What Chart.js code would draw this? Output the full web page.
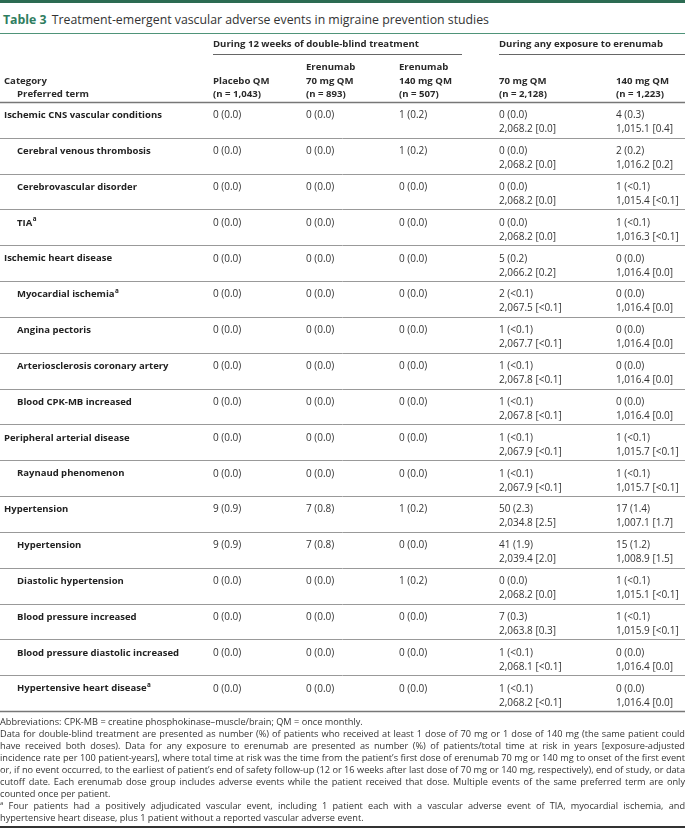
<!DOCTYPE html>
<html>
<head>
<meta charset="utf-8">
<script src="https://cdn.jsdelivr.net/npm/chart.js@4"></script>
<style>
body{margin:0;width:685px;height:828px;position:relative;overflow:hidden;background:#fff;font-family:"Open Sans",sans-serif;color:#333}
#topbar{position:absolute;left:0;top:0;width:685px;height:3px;background:#2c6b52}
#title{position:absolute;left:3px;top:12px;font-size:12.3px;line-height:16px;white-space:nowrap;color:#333}
#title b{color:#2f7d60;font-weight:700;margin-right:2px}
#titleLine{position:absolute;left:0;top:33px;width:685px;height:1px;background:#4f9479}
#wrap{position:absolute;left:0;top:0;width:685px;height:828px}
#notes{position:absolute;left:0;top:716px;width:685px;font-size:9.2px;line-height:12px;color:#333}
#notes div{white-space:nowrap;text-align:left}
#notes div.j{text-align:justify;text-align-last:justify;white-space:normal}
#notes sup{font-size:6px;vertical-align:4px;line-height:0}
#bottomLine{position:absolute;left:0;top:826px;width:685px;height:2px;background:#333}
</style>
</head>
<body>
<div id="topbar"></div>
<div id="title"><b>Table 3</b> Treatment-emergent vascular adverse events in migraine prevention studies</div>
<div id="titleLine"></div>
<div id="wrap"><canvas id="myChart" width="685" height="828"></canvas></div>
<div id="notes">
<div>Abbreviations: CPK-MB = creatine phosphokinase–muscle/brain; QM = once monthly.</div>
<div class="j">Data for double-blind treatment are presented as number (%) of patients who received at least 1 dose of 70 mg or 1 dose of 140 mg (the same patient could</div>
<div class="j">have received both doses). Data for any exposure to erenumab are presented as number (%) of patients/total time at risk in years [exposure-adjusted</div>
<div class="j">incidence rate per 100 patient-years], where total time at risk was the time from the patient’s first dose of erenumab 70 mg or 140 mg to onset of the first event</div>
<div class="j">or, if no event occurred, to the earliest of patient’s end of safety follow-up (12 or 16 weeks after last dose of 70 mg or 140 mg, respectively), end of study, or data</div>
<div class="j">cutoff date. Each erenumab dose group includes adverse events while the patient received that dose. Multiple events of the same preferred term are only</div>
<div>counted once per patient.</div>
<div class="j"><sup>a</sup> Four patients had a positively adjudicated vascular event, including 1 patient each with a vascular adverse event of TIA, myocardial ischemia, and</div>
<div>hypertensive heart disease, plus 1 patient without a reported vascular adverse event.</div>
</div>
<div id="bottomLine"></div>
<script>
// rows of the table
const categories = [
  'Ischemic CNS vascular conditions', 'Cerebral venous thrombosis', 'Cerebrovascular disorder', 'TIA',
  'Ischemic heart disease', 'Myocardial ischemia', 'Angina pectoris', 'Arteriosclerosis coronary artery',
  'Blood CPK-MB increased', 'Peripheral arterial disease', 'Raynaud phenomenon', 'Hypertension',
  'Hypertension', 'Diastolic hypertension', 'Blood pressure increased', 'Blood pressure diastolic increased',
  'Hypertensive heart disease'
];
const isSubRow = [0,1,1,1, 0,1,1,1,1, 0,1, 0,1,1,1,1,1];
const footMark = [0,0,0,1, 0,1,0,0,0, 0,0, 0,0,0,0,0,1];

// double-blind treatment, n (%)
const placeboQM = ['0 (0.0)','0 (0.0)','0 (0.0)','0 (0.0)','0 (0.0)','0 (0.0)','0 (0.0)','0 (0.0)','0 (0.0)','0 (0.0)','0 (0.0)','9 (0.9)','9 (0.9)','0 (0.0)','0 (0.0)','0 (0.0)','0 (0.0)'];
const erenumab70 = ['0 (0.0)','0 (0.0)','0 (0.0)','0 (0.0)','0 (0.0)','0 (0.0)','0 (0.0)','0 (0.0)','0 (0.0)','0 (0.0)','0 (0.0)','7 (0.8)','7 (0.8)','0 (0.0)','0 (0.0)','0 (0.0)','0 (0.0)'];
const erenumab140 = ['1 (0.2)','1 (0.2)','0 (0.0)','0 (0.0)','0 (0.0)','0 (0.0)','0 (0.0)','0 (0.0)','0 (0.0)','0 (0.0)','0 (0.0)','1 (0.2)','0 (0.0)','1 (0.2)','0 (0.0)','0 (0.0)','0 (0.0)'];

// any exposure to erenumab, n (%) and time at risk [rate]
const any70n = ['0 (0.0)','0 (0.0)','0 (0.0)','0 (0.0)','5 (0.2)','2 (<0.1)','1 (<0.1)','1 (<0.1)','1 (<0.1)','1 (<0.1)','1 (<0.1)','50 (2.3)','41 (1.9)','0 (0.0)','7 (0.3)','1 (<0.1)','1 (<0.1)'];
const any70t = ['2,068.2 [0.0]','2,068.2 [0.0]','2,068.2 [0.0]','2,068.2 [0.0]','2,066.2 [0.2]','2,067.5 [<0.1]','2,067.7 [<0.1]','2,067.8 [<0.1]','2,067.8 [<0.1]','2,067.9 [<0.1]','2,067.9 [<0.1]','2,034.8 [2.5]','2,039.4 [2.0]','2,068.2 [0.0]','2,063.8 [0.3]','2,068.1 [<0.1]','2,068.2 [<0.1]'];
const any140n = ['4 (0.3)','2 (0.2)','1 (<0.1)','1 (<0.1)','0 (0.0)','0 (0.0)','0 (0.0)','0 (0.0)','0 (0.0)','1 (<0.1)','1 (<0.1)','17 (1.4)','15 (1.2)','1 (<0.1)','1 (<0.1)','0 (0.0)','0 (0.0)'];
const any140t = ['1,015.1 [0.4]','1,016.2 [0.2]','1,015.4 [<0.1]','1,016.3 [<0.1]','1,016.4 [0.0]','1,016.4 [0.0]','1,016.4 [0.0]','1,016.4 [0.0]','1,016.4 [0.0]','1,015.7 [<0.1]','1,015.7 [<0.1]','1,007.1 [1.7]','1,008.9 [1.5]','1,015.1 [<0.1]','1,015.9 [<0.1]','1,016.4 [0.0]','1,016.4 [0.0]'];

// column headers
const groupHeads = ['During 12 weeks of double-blind treatment', 'During any exposure to erenumab'];
const colHeads = [
  ['', 'Category', 'Preferred term'],
  ['', 'Placebo QM', '(n = 1,043)'],
  ['Erenumab', '70 mg QM', '(n = 893)'],
  ['Erenumab', '140 mg QM', '(n = 507)'],
  ['', '70 mg QM', '(n = 2,128)'],
  ['', '140 mg QM', '(n = 1,223)']
];

const colX = [4, 213, 306, 399, 499, 616];
const FONT = '"Open Sans", sans-serif';

const tablePlugin = {
  id: 'tableText',
  afterDraw(chart) {
    const c = chart.ctx;
    const ys = chart.scales.y;
    const band = (ys.bottom - ys.top) / categories.length;
    c.save();
    c.textBaseline = 'middle';
    c.textAlign = 'left';

    // header
    const top = ys.top;
    c.fillStyle = '#2a2a2a';
    c.font = 'bold 9.6px ' + FONT;
    c.fillText(groupHeads[0], colX[1], top - 58);
    c.fillText(groupHeads[1], colX[4], top - 58);
    c.strokeStyle = '#666';
    c.lineWidth = 1.2;
    c.beginPath();
    c.moveTo(colX[1], top - 47.5); c.lineTo(462, top - 47.5);
    c.moveTo(colX[4], top - 47.5); c.lineTo(685, top - 47.5);
    c.stroke();
    colHeads.forEach((h, j) => {
      const x = colX[j];
      c.fillText(h[0], x, top - 35);
      c.fillText(h[1], x, top - 21);
      c.fillText(h[2], x + (j === 0 ? 13 : 0), top - 7.5);
    });

    // row lines
    for (let i = 0; i <= categories.length; i++) {
      const y = Math.round(ys.top + i * band) + 0.5;
      const edge = i === 0 || i === categories.length;
      c.strokeStyle = edge ? '#777' : '#999';
      c.lineWidth = edge ? 1.5 : 1;
      c.beginPath(); c.moveTo(0, y); c.lineTo(685, y); c.stroke();
    }

    // rows
    categories.forEach((lab, i) => {
      const rowTop = ys.getPixelForValue(i) - band / 2;
      const y1 = rowTop + 13.5, y2 = rowTop + 27.5;
      c.fillStyle = '#222';
      c.font = 'bold 9.5px ' + FONT;
      const lx = colX[0] + (isSubRow[i] ? 13 : 0);
      c.fillText(lab, lx, y1);
      if (footMark[i]) {
        const w = c.measureText(lab).width;
        c.font = 'bold 6.3px ' + FONT;
        c.fillText('a', lx + w + 0.5, y1 - 3.5);
      }
      c.fillStyle = '#333';
      c.font = '10px ' + FONT;
      c.fillText(placeboQM[i], colX[1], y1);
      c.fillText(erenumab70[i], colX[2], y1);
      c.fillText(erenumab140[i], colX[3], y1);
      c.fillText(any70n[i], colX[4], y1);
      c.fillText(any70t[i], colX[4], y2);
      c.fillText(any140n[i], colX[5], y1);
      c.fillText(any140t[i], colX[5], y2);
    });
    c.restore();
  }
};

const ctx = document.getElementById('myChart');
new Chart(ctx, {
  type: 'bar',
  data: {
    labels: categories,
    datasets: []
  },
  options: {
    indexAxis: 'y',
    responsive: false,
    animation: false,
    devicePixelRatio: 1,
    layout: {
      padding: { top: 102, bottom: 117, left: 0, right: 0 }
    },
    scales: {
      x: { display: false },
      y: { display: false, offset: true }
    },
    plugins: {
      legend: false,
      tooltip: { enabled: false }
    }
  },
  plugins: [tablePlugin]
});
</script>
</body>
</html>
